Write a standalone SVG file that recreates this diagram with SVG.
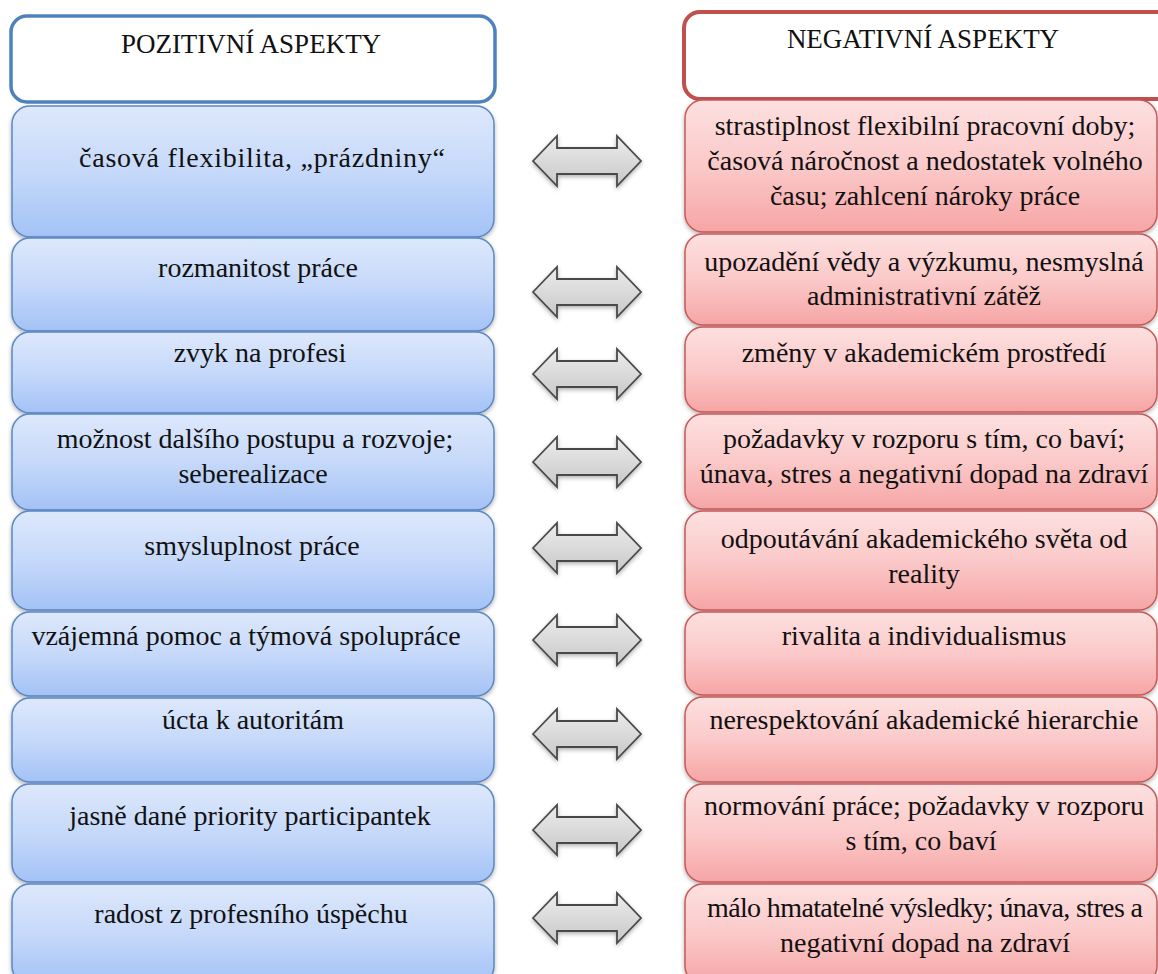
<svg xmlns="http://www.w3.org/2000/svg" width="1158" height="974" viewBox="0 0 1158 974">
<defs>
<linearGradient id="gb" x1="0" y1="0" x2="0" y2="1"><stop offset="0" stop-color="#dde8fb"/><stop offset="0.5" stop-color="#c6d9fa"/><stop offset="1" stop-color="#a3c2f5"/></linearGradient>
<linearGradient id="gr" x1="0" y1="0" x2="0" y2="1"><stop offset="0" stop-color="#fde0e0"/><stop offset="0.5" stop-color="#fbc9c9"/><stop offset="1" stop-color="#f6a5a5"/></linearGradient>
<linearGradient id="ga" x1="0" y1="0" x2="0" y2="1"><stop offset="0" stop-color="#ececec"/><stop offset="1" stop-color="#c8c8c8"/></linearGradient>
<filter id="sh" x="-5%" y="-10%" width="110%" height="130%"><feDropShadow dx="0" dy="2" stdDeviation="2" flood-color="#000" flood-opacity="0.3"/></filter>
<path id="arr" d="M-54,0 L-30,-25 L-30,-13 L30,-13 L30,-25 L54,0 L30,25 L30,13 L-30,13 L-30,25 Z"/>
</defs>
<style>
.hb{fill:#fff;stroke:#4f81bd;stroke-width:3.5}
.hr{fill:#fff;stroke:#c0504d;stroke-width:4}
.b{fill:url(#gb);stroke:#5b87c5;stroke-width:1.5;filter:url(#sh)}
.r{fill:url(#gr);stroke:#c55a58;stroke-width:1.5;filter:url(#sh)}
.a{fill:url(#ga);stroke:#4a4a4a;stroke-width:1.8;filter:url(#sh)}
.t{font-family:'Liberation Serif','Times New Roman',serif;font-size:28px;fill:#111;text-anchor:middle}
.h{font-family:'Liberation Serif','Times New Roman',serif;font-size:27px;fill:#111;text-anchor:middle}
</style>
<rect width="1158" height="974" fill="#fff"/>
<g id="pos-header"><rect class="hb" x="11" y="16" width="484" height="86" rx="16"/><text class="h" x="251" y="53">POZITIVNÍ ASPEKTY</text></g>
<g id="neg-header"><rect class="hr" x="684" y="12" width="490" height="87" rx="16"/><text class="h" x="923" y="48">NEGATIVNÍ ASPEKTY</text></g>
<g id="p1"><rect class="b" x="12" y="106" width="482" height="131" rx="18"/><text class="t" x="262" y="167" textLength="366" lengthAdjust="spacing">časová flexibilita, „prázdniny“</text></g>
<g id="p2"><rect class="b" x="12" y="238" width="482" height="93" rx="18"/><text class="t" x="258" y="277">rozmanitost práce</text></g>
<g id="p3"><rect class="b" x="12" y="332" width="482" height="81" rx="18"/><text class="t" x="260" y="362">zvyk na profesi</text></g>
<g id="p4"><rect class="b" x="12" y="414" width="482" height="96" rx="18"/><text class="t" x="255" y="448">možnost dalšího postupu a rozvoje;</text><text class="t" x="253" y="483">seberealizace</text></g>
<g id="p5"><rect class="b" x="12" y="511" width="482" height="99" rx="18"/><text class="t" x="252" y="555">smysluplnost práce</text></g>
<g id="p6"><rect class="b" x="12" y="612" width="482" height="84" rx="18"/><text class="t" x="246" y="645">vzájemná pomoc a týmová spolupráce</text></g>
<g id="p7"><rect class="b" x="12" y="698" width="482" height="84" rx="18"/><text class="t" x="253" y="729">úcta k autoritám</text></g>
<g id="p8"><rect class="b" x="12" y="784" width="482" height="98" rx="18"/><text class="t" x="250" y="825">jasně dané priority participantek</text></g>
<g id="p9"><rect class="b" x="12" y="884" width="482" height="100" rx="18"/><text class="t" x="251" y="923">radost z profesního úspěchu</text></g>
<g id="n1"><rect class="r" x="685" y="100" width="472" height="132" rx="18"/><text class="t" x="925" y="135">strastiplnost flexibilní pracovní doby;</text><text class="t" x="925" y="170">časová náročnost a nedostatek volného</text><text class="t" x="925" y="205">času; zahlcení nároky práce</text></g>
<g id="n2"><rect class="r" x="685" y="234" width="472" height="91" rx="18"/><text class="t" x="924" y="271">upozadění vědy a výzkumu, nesmyslná</text><text class="t" x="924" y="305">administrativní zátěž</text></g>
<g id="n3"><rect class="r" x="685" y="327" width="472" height="85" rx="18"/><text class="t" x="924" y="362">změny v akademickém prostředí</text></g>
<g id="n4"><rect class="r" x="685" y="414" width="472" height="95" rx="18"/><text class="t" x="924" y="448">požadavky v rozporu s tím, co baví;</text><text class="t" x="924" y="483">únava, stres a negativní dopad na zdraví</text></g>
<g id="n5"><rect class="r" x="685" y="511" width="472" height="99" rx="18"/><text class="t" x="924" y="548">odpoutávání akademického světa od</text><text class="t" x="924" y="583">reality</text></g>
<g id="n6"><rect class="r" x="685" y="612" width="472" height="83" rx="18"/><text class="t" x="924" y="645">rivalita a individualismus</text></g>
<g id="n7"><rect class="r" x="685" y="697" width="472" height="85" rx="18"/><text class="t" x="924" y="729">nerespektování akademické hierarchie</text></g>
<g id="n8"><rect class="r" x="685" y="784" width="472" height="98" rx="18"/><text class="t" x="924" y="815">normování práce; požadavky v rozporu</text><text class="t" x="921" y="850">s tím, co baví</text></g>
<g id="n9"><rect class="r" x="685" y="884" width="472" height="100" rx="18"/><text class="t" x="925" y="917" textLength="436" lengthAdjust="spacing">málo hmatatelné výsledky; únava, stres a</text><text class="t" x="925" y="952">negativní dopad na zdraví</text></g>
<g id="connectors">
<use href="#arr" class="a" x="587" y="161"/>
<use href="#arr" class="a" x="587" y="292"/>
<use href="#arr" class="a" x="587" y="374"/>
<use href="#arr" class="a" x="587" y="462"/>
<use href="#arr" class="a" x="587" y="548"/>
<use href="#arr" class="a" x="587" y="640"/>
<use href="#arr" class="a" x="587" y="734"/>
<use href="#arr" class="a" x="587" y="830"/>
<use href="#arr" class="a" x="587" y="918"/>
</g>
</svg>
